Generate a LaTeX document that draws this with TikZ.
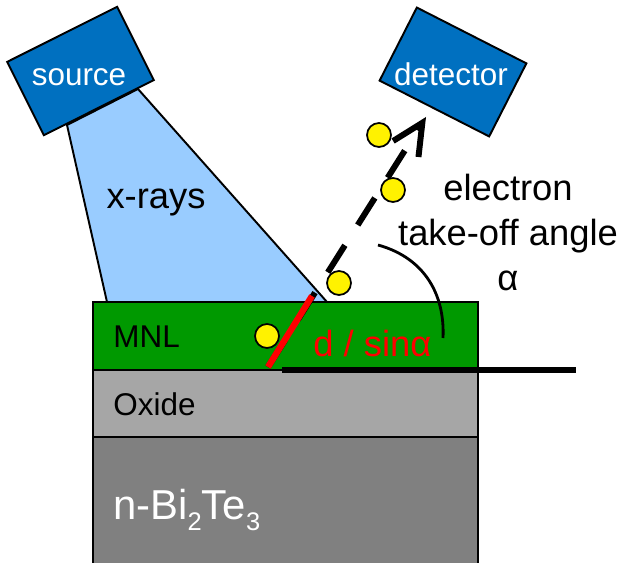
\documentclass[tikz,border=0pt]{standalone}
\usepackage{fontspec}
\setmainfont{Liberation Sans}
\usetikzlibrary{arrows.meta}

\definecolor{mnlgreen}{HTML}{009900}
\definecolor{oxidegray}{HTML}{A6A6A6}
\definecolor{bulkgray}{HTML}{808080}
\definecolor{beamblue}{HTML}{99CCFF}
\definecolor{boxblue}{HTML}{0070C0}
\newcommand\lowsub[1]{\raisebox{-0.27em}{\fontsize{14.5}{14.5}\selectfont #1}}

\begin{document}
\begin{tikzpicture}[x=0.02cm,y=-0.02cm,
  layer/.style={draw=black,line width=1.1pt},
  box/.style={draw=black,line width=1.1pt,fill=boxblue,minimum width=2.46cm,minimum height=1.64cm,inner sep=0pt},
  boxtext/.style={text=white,inner sep=0pt,font=\fontsize{17.9}{20}\selectfont},
  layertext/.style={anchor=west,inner sep=0pt,font=\fontsize{17.9}{20}\selectfont},
  bigtext/.style={inner sep=0pt,font=\fontsize{20.7}{25.5}\selectfont},
  electron/.style={circle,draw=black,line width=1pt,fill=yellow,minimum size=0.48cm,inner sep=0pt}]
\useasboundingbox (0,0) rectangle (625,563);
% x-ray beam
\draw[layer,fill=beamblue] (107,302) -- (67,125) -- (138,89) -- (327,302);
% layers
\draw[layer,fill=bulkgray] (93,437) rectangle (478,575);
\draw[layer,fill=oxidegray] (93,370) rectangle (478,437);
\draw[layer,fill=mnlgreen] (93,302) rectangle (478,370);
% escape path
\coordinate (emit) at (268,367);
\coordinate (tip) at (426,117);
\draw[line width=3.4pt,dash pattern=on 0.64cm off 0.48cm,
  -{Straight Barb[length=0.62cm,width=0.6cm]}] (emit) -- (tip);
\coordinate (top) at (312,296);
\draw[red,line width=3.6pt] (emit) -- (top);
\coordinate (surf) at (282,370);
\coordinate (surfend) at (576,370);
\draw[line width=3.9pt] (surf) -- (surfend);
% take-off angle
\draw[line width=1.6pt] (378,245) .. controls (425,258) and (445,295) .. (443,338);
% electrons
\node[electron] (e1) at (379,135) {};
\node[electron] (e2) at (393,190) {};
\node[electron] (e3) at (339,283) {};
\node[electron] (e4) at (267,336) {};
% source and detector
\node[box,rotate=26.6] (source) at (80.5,71) {};
\node[boxtext] (sourcelabel) at (79,77) {source};
\node[box,rotate=-27] (detector) at (453,72) {};
\node[boxtext] (detectorlabel) at (451,74) {detector};
% labels
\node[bigtext] (xrays) at (156,202) {x-rays};
\node[bigtext,anchor=north,align=center] (angle) at (508,174) {electron\\take-off angle\\α};
\node[bigtext,anchor=west,text=red] (depth) at (313,344) {d / sinα};
\node[layertext] (mnl) at (113,337) {MNL};
\node[layertext] (oxide) at (113,404.5) {Oxide};
\node[layertext,text=white,font=\fontsize{23.8}{26}\selectfont] (bulk) at (113,510) {n-Bi\lowsub{2}Te\lowsub{3}};
\end{tikzpicture}
\end{document}
